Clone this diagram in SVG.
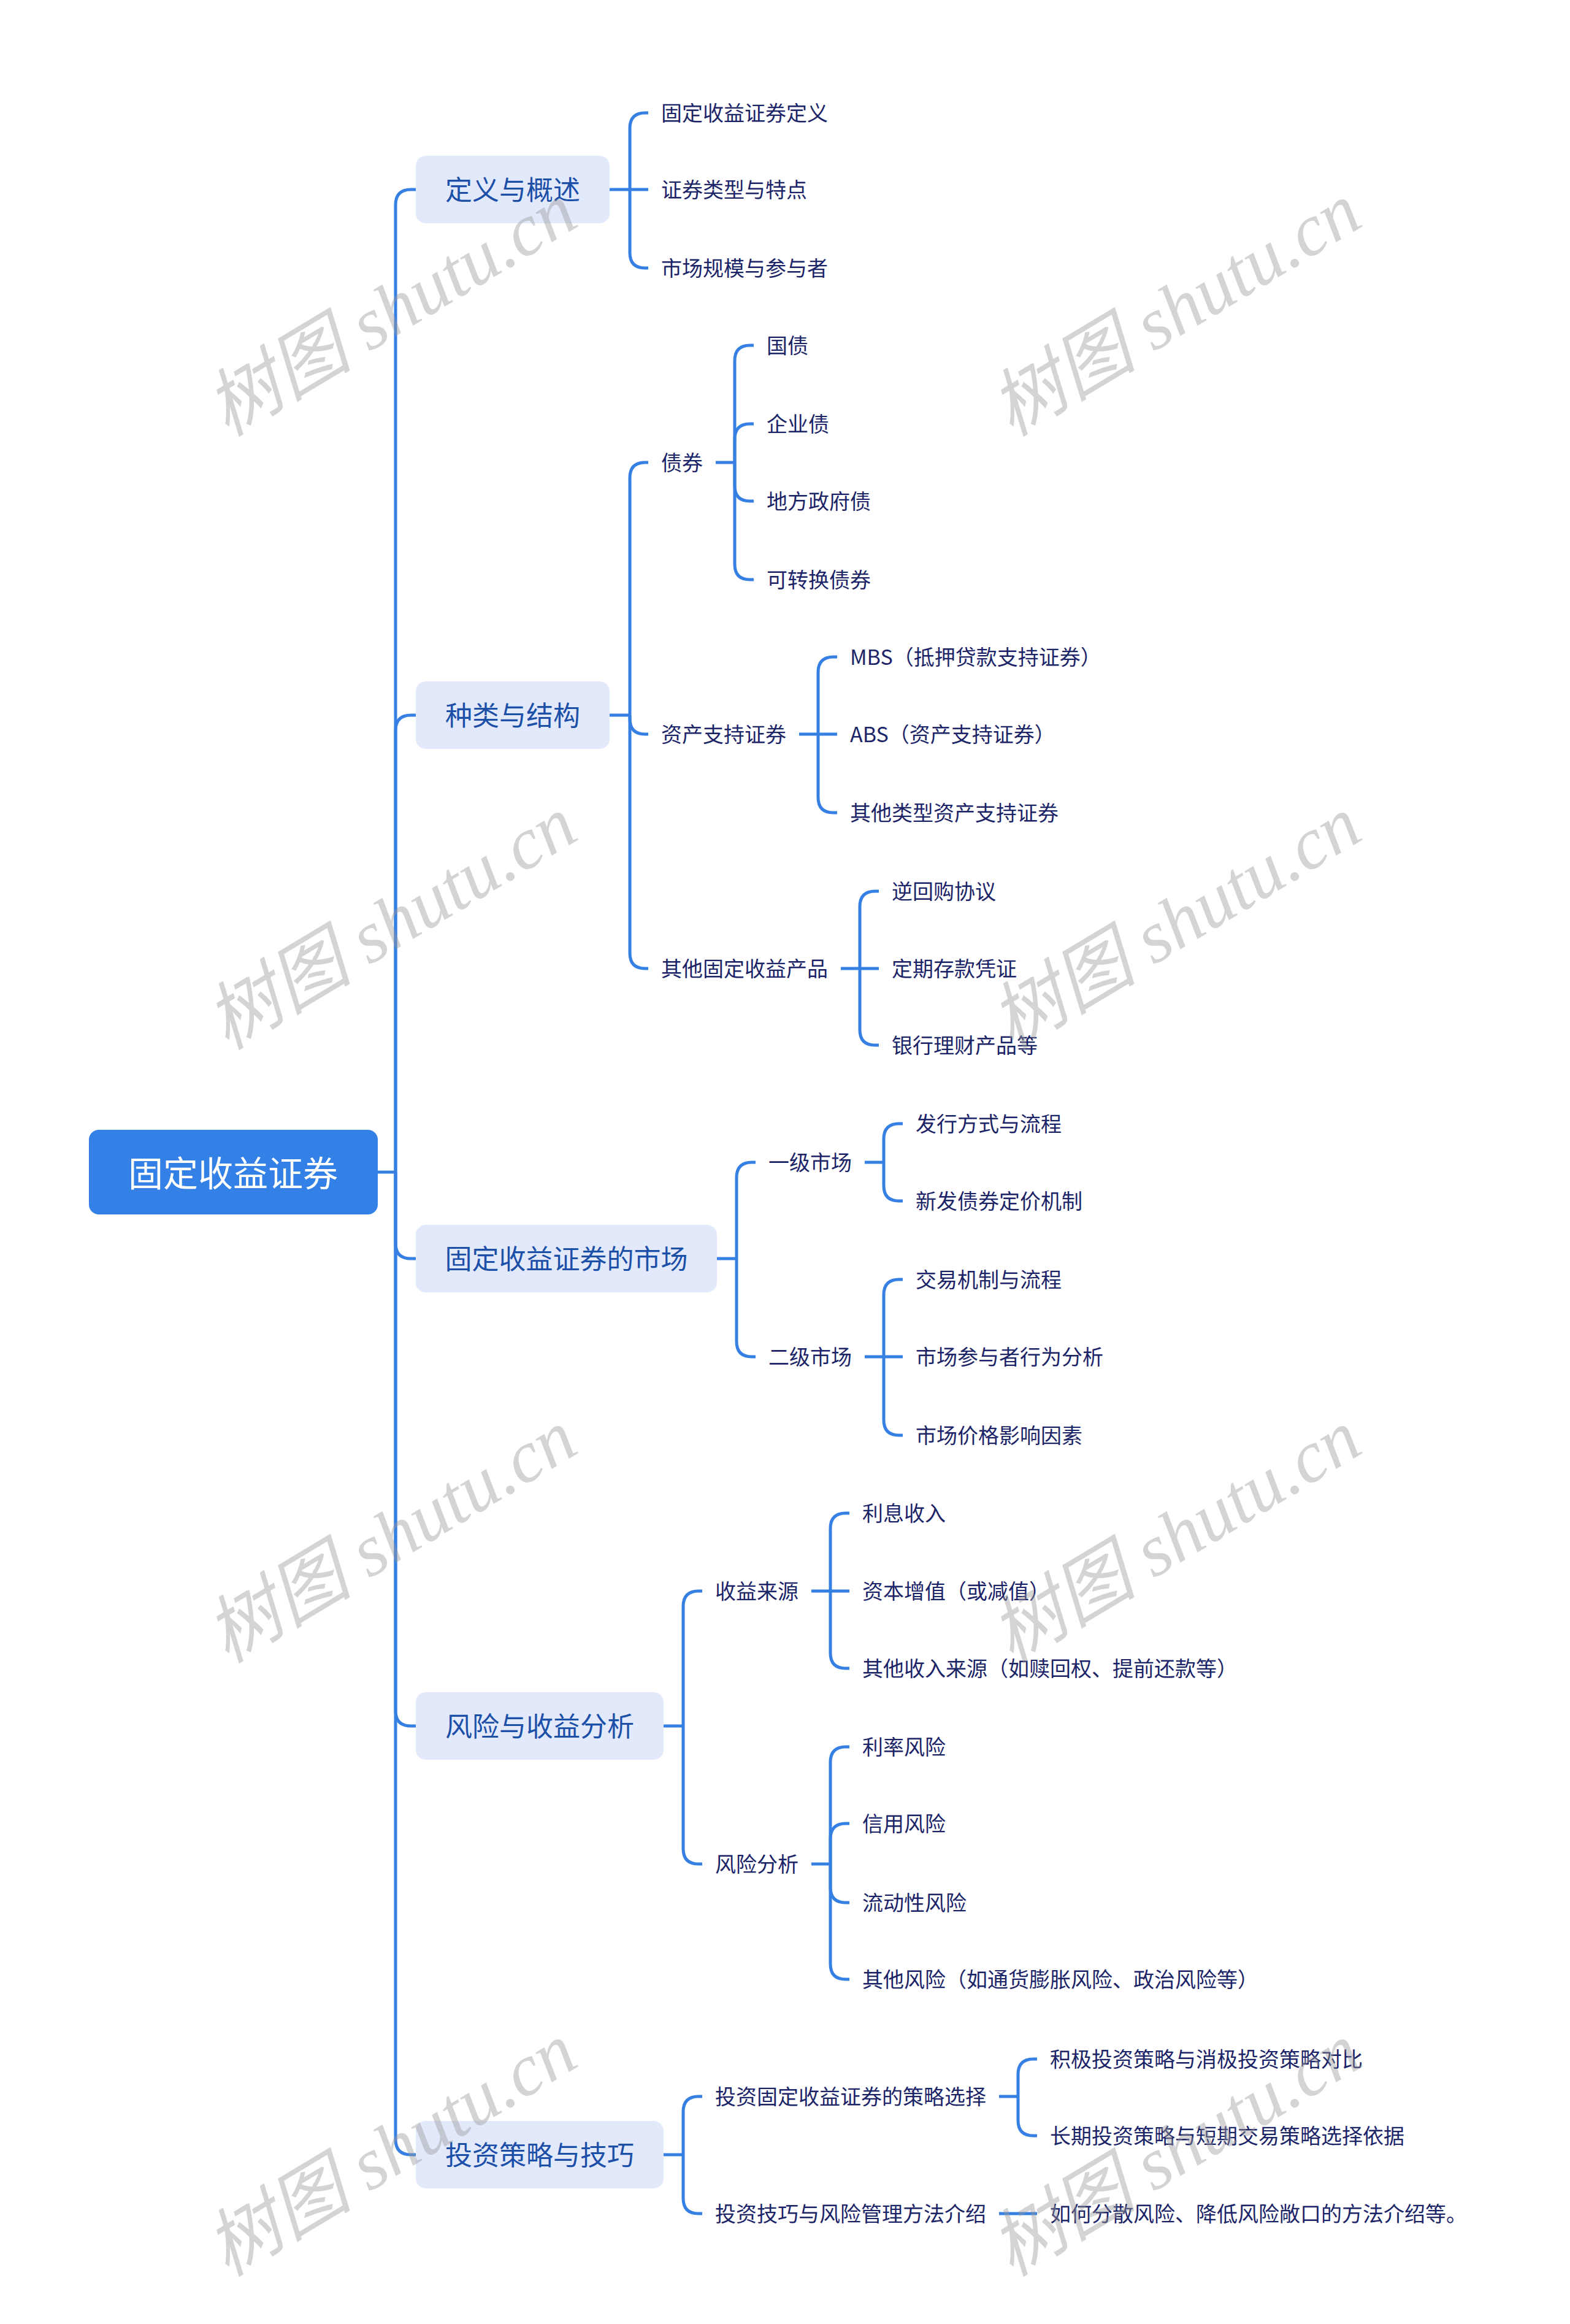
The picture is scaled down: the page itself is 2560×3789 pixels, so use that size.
<svg xmlns="http://www.w3.org/2000/svg" width="2560" height="3789" viewBox="0 0 2560 3789">
<style>
.ln{fill:none;stroke:#3680e4;stroke-width:5;stroke-linecap:butt}
.root rect{fill:#3381e6}
.root text{fill:#ffffff;font-size:57px}
.l1 rect{fill:#e2e9fb}
.l1 text{fill:#1b4fa8;font-size:44px}
text{font-family:"Noto Sans CJK SC","Noto Sans",sans-serif;dominant-baseline:central}
.lf{fill:#1c2468;font-size:34px}
.wm{font-family:"Liberation Serif","Noto Sans CJK SC",serif;font-style:italic;font-size:120px;fill:#9a9a9a;opacity:0.42;text-anchor:middle}
</style>
<rect width="2560" height="3789" fill="#ffffff"/>
<g id="connectors">
<path class="ln" d="M616 1911H645"/>
<path class="ln" d="M645 1911V334Q645 309 670 309H678"/>
<path class="ln" d="M645 1911V1191Q645 1166 670 1166H678"/>
<path class="ln" d="M645 1911V2027Q645 2052 670 2052H678"/>
<path class="ln" d="M645 1911V2789Q645 2814 670 2814H678"/>
<path class="ln" d="M645 1911V3488Q645 3513 670 3513H678"/>
<path class="ln" d="M994 309H1057"/>
<path class="ln" d="M1027 309V209Q1027 184 1052 184H1057"/>
<path class="ln" d="M1027 309V412Q1027 437 1052 437H1057"/>
<path class="ln" d="M994 1166H1027"/>
<path class="ln" d="M1027 1166V779Q1027 754 1052 754H1057"/>
<path class="ln" d="M1027 1166V1172Q1027 1197 1052 1197H1057"/>
<path class="ln" d="M1027 1166V1554Q1027 1579 1052 1579H1057"/>
<path class="ln" d="M1167 754H1198"/>
<path class="ln" d="M1198 754V588Q1198 563 1223 563H1229"/>
<path class="ln" d="M1198 754V716Q1198 691 1223 691H1229"/>
<path class="ln" d="M1198 754V792Q1198 817 1223 817H1229"/>
<path class="ln" d="M1198 754V920Q1198 945 1223 945H1229"/>
<path class="ln" d="M1303 1197H1365"/>
<path class="ln" d="M1334 1197V1096Q1334 1071 1359 1071H1365"/>
<path class="ln" d="M1334 1197V1300Q1334 1325 1359 1325H1365"/>
<path class="ln" d="M1371 1579H1433"/>
<path class="ln" d="M1402 1579V1478Q1402 1453 1427 1453H1433"/>
<path class="ln" d="M1402 1579V1679Q1402 1704 1427 1704H1433"/>
<path class="ln" d="M1169 2052H1201"/>
<path class="ln" d="M1201 2052V1920Q1201 1895 1226 1895H1232"/>
<path class="ln" d="M1201 2052V2187Q1201 2212 1226 2212H1232"/>
<path class="ln" d="M1410 1895H1441"/>
<path class="ln" d="M1441 1895V1857Q1441 1832 1466 1832H1472"/>
<path class="ln" d="M1441 1895V1933Q1441 1958 1466 1958H1472"/>
<path class="ln" d="M1410 2212H1472"/>
<path class="ln" d="M1441 2212V2111Q1441 2086 1466 2086H1472"/>
<path class="ln" d="M1441 2212V2315Q1441 2340 1466 2340H1472"/>
<path class="ln" d="M1082 2814H1114"/>
<path class="ln" d="M1114 2814V2619Q1114 2594 1139 2594H1145"/>
<path class="ln" d="M1114 2814V3014Q1114 3039 1139 3039H1145"/>
<path class="ln" d="M1323 2594H1385"/>
<path class="ln" d="M1354 2594V2492Q1354 2467 1379 2467H1385"/>
<path class="ln" d="M1354 2594V2695Q1354 2720 1379 2720H1385"/>
<path class="ln" d="M1323 3039H1354"/>
<path class="ln" d="M1354 3039V2873Q1354 2848 1379 2848H1385"/>
<path class="ln" d="M1354 3039V2998Q1354 2973 1379 2973H1385"/>
<path class="ln" d="M1354 3039V3077Q1354 3102 1379 3102H1385"/>
<path class="ln" d="M1354 3039V3202Q1354 3227 1379 3227H1385"/>
<path class="ln" d="M1082 3513H1114"/>
<path class="ln" d="M1114 3513V3443Q1114 3418 1139 3418H1145"/>
<path class="ln" d="M1114 3513V3584Q1114 3609 1139 3609H1145"/>
<path class="ln" d="M1629 3418H1660"/>
<path class="ln" d="M1660 3418V3382Q1660 3357 1685 3357H1691"/>
<path class="ln" d="M1660 3418V3457Q1660 3482 1685 3482H1691"/>
<path class="ln" d="M1629 3609H1691"/>
</g>
<g id="root" class="root"><rect x="145" y="1842" width="471" height="138" rx="16"/><text x="380" y="1909" text-anchor="middle">固定收益证券</text></g>
<g id="n1" class="l1"><rect x="678" y="254" width="316" height="110" rx="16"/><text x="836" y="307" text-anchor="middle">定义与概述</text></g>
<g id="n2" class="l1"><rect x="678" y="1111" width="316" height="110" rx="16"/><text x="836" y="1164" text-anchor="middle">种类与结构</text></g>
<g id="n3" class="l1"><rect x="678" y="1997" width="491" height="110" rx="16"/><text x="923.5" y="2050" text-anchor="middle">固定收益证券的市场</text></g>
<g id="n4" class="l1"><rect x="678" y="2759" width="404" height="110" rx="16"/><text x="880" y="2812" text-anchor="middle">风险与收益分析</text></g>
<g id="n5" class="l1"><rect x="678" y="3458" width="404" height="110" rx="16"/><text x="880" y="3511" text-anchor="middle">投资策略与技巧</text></g>
<g id="n1-1"><text class="lf" x="1078" y="182">固定收益证券定义</text></g>
<g id="n1-2"><text class="lf" x="1078" y="307">证券类型与特点</text></g>
<g id="n1-3"><text class="lf" x="1078" y="435">市场规模与参与者</text></g>
<g id="n2-1"><text class="lf" x="1078" y="752">债券</text></g>
<g id="n2-1-1"><text class="lf" x="1250" y="561">国债</text></g>
<g id="n2-1-2"><text class="lf" x="1250" y="689">企业债</text></g>
<g id="n2-1-3"><text class="lf" x="1250" y="815">地方政府债</text></g>
<g id="n2-1-4"><text class="lf" x="1250" y="943">可转换债券</text></g>
<g id="n2-2"><text class="lf" x="1078" y="1195">资产支持证券</text></g>
<g id="n2-2-1"><text class="lf" x="1386" y="1069">MBS（抵押贷款支持证券）</text></g>
<g id="n2-2-2"><text class="lf" x="1386" y="1195">ABS（资产支持证券）</text></g>
<g id="n2-2-3"><text class="lf" x="1386" y="1323">其他类型资产支持证券</text></g>
<g id="n2-3"><text class="lf" x="1078" y="1577">其他固定收益产品</text></g>
<g id="n2-3-1"><text class="lf" x="1454" y="1451">逆回购协议</text></g>
<g id="n2-3-2"><text class="lf" x="1454" y="1577">定期存款凭证</text></g>
<g id="n2-3-3"><text class="lf" x="1454" y="1702">银行理财产品等</text></g>
<g id="n3-1"><text class="lf" x="1253" y="1893">一级市场</text></g>
<g id="n3-1-1"><text class="lf" x="1493" y="1830">发行方式与流程</text></g>
<g id="n3-1-2"><text class="lf" x="1493" y="1956">新发债券定价机制</text></g>
<g id="n3-2"><text class="lf" x="1253" y="2210">二级市场</text></g>
<g id="n3-2-1"><text class="lf" x="1493" y="2084">交易机制与流程</text></g>
<g id="n3-2-2"><text class="lf" x="1493" y="2210">市场参与者行为分析</text></g>
<g id="n3-2-3"><text class="lf" x="1493" y="2338">市场价格影响因素</text></g>
<g id="n4-1"><text class="lf" x="1166" y="2592">收益来源</text></g>
<g id="n4-1-1"><text class="lf" x="1406" y="2465">利息收入</text></g>
<g id="n4-1-2"><text class="lf" x="1406" y="2592">资本增值（或减值）</text></g>
<g id="n4-1-3"><text class="lf" x="1406" y="2718">其他收入来源（如赎回权、提前还款等）</text></g>
<g id="n4-2"><text class="lf" x="1166" y="3037">风险分析</text></g>
<g id="n4-2-1"><text class="lf" x="1406" y="2846">利率风险</text></g>
<g id="n4-2-2"><text class="lf" x="1406" y="2971">信用风险</text></g>
<g id="n4-2-3"><text class="lf" x="1406" y="3100">流动性风险</text></g>
<g id="n4-2-4"><text class="lf" x="1406" y="3225">其他风险（如通货膨胀风险、政治风险等）</text></g>
<g id="n5-1"><text class="lf" x="1166" y="3416">投资固定收益证券的策略选择</text></g>
<g id="n5-1-1"><text class="lf" x="1712" y="3355">积极投资策略与消极投资策略对比</text></g>
<g id="n5-1-2"><text class="lf" x="1712" y="3480">长期投资策略与短期交易策略选择依据</text></g>
<g id="n5-2"><text class="lf" x="1166" y="3607">投资技巧与风险管理方法介绍</text></g>
<g id="n5-2-1"><text class="lf" x="1712" y="3607">如何分散风险、降低风险敞口的方法介绍等。</text></g>
<g id="watermarks">
<text class="wm" x="638" y="505" transform="rotate(-31 638 505)">树图 shutu.cn</text>
<text class="wm" x="1917" y="505" transform="rotate(-31 1917 505)">树图 shutu.cn</text>
<text class="wm" x="638" y="1505" transform="rotate(-31 638 1505)">树图 shutu.cn</text>
<text class="wm" x="1917" y="1505" transform="rotate(-31 1917 1505)">树图 shutu.cn</text>
<text class="wm" x="638" y="2505" transform="rotate(-31 638 2505)">树图 shutu.cn</text>
<text class="wm" x="1917" y="2505" transform="rotate(-31 1917 2505)">树图 shutu.cn</text>
<text class="wm" x="638" y="3505" transform="rotate(-31 638 3505)">树图 shutu.cn</text>
<text class="wm" x="1917" y="3505" transform="rotate(-31 1917 3505)">树图 shutu.cn</text>
</g>
</svg>
